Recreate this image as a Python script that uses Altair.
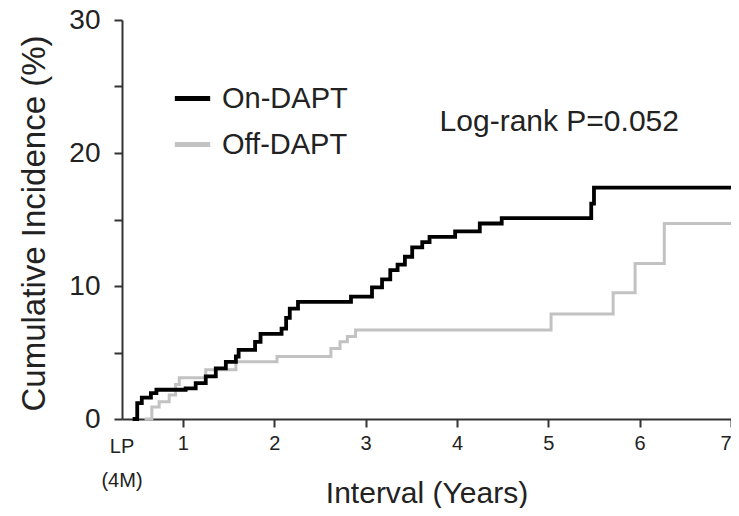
import altair as alt
import pandas as pd

# On-DAPT cumulative incidence (step function, years, %)
on_t = [0.45, 0.50, 0.55, 0.65, 0.71, 1.03, 1.14, 1.25, 1.36, 1.47, 1.58, 1.61, 1.79, 1.85,
        2.08, 2.13, 2.17, 2.26, 2.84, 3.07, 3.18, 3.27, 3.35, 3.43, 3.51, 3.62, 3.70, 3.98,
        4.25, 4.49, 5.47, 5.50, 7.00]
on_y = [0.0, 1.2, 1.6, 1.95, 2.2, 2.3, 2.7, 3.2, 3.8, 4.3, 4.7, 5.2, 5.8, 6.4,
        6.8, 7.6, 8.3, 8.8, 9.2, 9.9, 10.5, 11.2, 11.6, 12.2, 12.9, 13.3, 13.7, 14.1,
        14.7, 15.1, 16.2, 17.4, 17.4]

# Off-DAPT cumulative incidence
off_t = [0.58, 0.66, 0.74, 0.85, 0.92, 0.96, 1.25, 1.58, 2.03, 2.62, 2.72, 2.80, 2.89,
         5.03, 5.71, 5.95, 6.27, 7.00]
off_y = [0.0, 0.9, 1.3, 1.8, 2.6, 3.1, 3.7, 4.3, 4.7, 5.3, 5.8, 6.2, 6.7,
         7.9, 9.5, 11.7, 14.7, 14.7]

groups = ["On-DAPT", "Off-DAPT"]
colors = ["#000000", "#c2c2c2"]
widths = [3.8, 3.0]

x_ticks = [1, 2, 3, 4, 5, 6, 7]
y_ticks = [0, 5, 10, 15, 20, 25, 30]
lp_label = ["LP", "(4M)"]
x_start = 0.3333
annotation = "Log-rank P=0.052"

FONT = "Liberation Sans, Arial, Helvetica, sans-serif"

on_df = pd.DataFrame({"t": on_t, "y": on_y, "group": groups[0]})
off_df = pd.DataFrame({"t": off_t, "y": off_y, "group": groups[1]})

xscale = alt.Scale(domain=[x_start, 7], nice=False, zero=False)
yscale = alt.Scale(domain=[0, 30], nice=False)

x_enc = alt.X("t:Q", scale=xscale,
              axis=alt.Axis(values=x_ticks, format="d", title="Interval (Years)",
                            labelFontSize=20, labelPadding=6, titleFontSize=30,
                            titleFontWeight="normal", titleY=74, titleBaseline="middle",
                            labelColor="#222", titleColor="#222"))
y_enc = alt.Y("y:Q", scale=yscale,
              axis=alt.Axis(values=y_ticks, title="Cumulative Incidence (%)",
                            labelExpr="datum.value % 10 == 0 ? datum.label : ''",
                            labelFontSize=28, labelPadding=14, titleFontSize=33,
                            titleFontWeight="normal", titleX=-88, titleY=203,
                            titleBaseline="middle",
                            labelColor="#222", titleColor="#222"))
color_enc = alt.Color("group:N", scale=alt.Scale(domain=groups, range=colors),
                      legend=alt.Legend(orient="none", legendX=50, legendY=58, title=None,
                                        symbolType="M-1,0H1", symbolStrokeWidth=5,
                                        symbolSize=1250, labelFontSize=29, labelOffset=9,
                                        rowPadding=10, labelFont=FONT, labelColor="#222"))

off_line = alt.Chart(off_df).mark_line(interpolate="step-after", strokeWidth=widths[1]).encode(
    x=x_enc, y=y_enc, color=color_enc, order=alt.Order("t:Q"))
on_line = alt.Chart(on_df).mark_line(interpolate="step-after", strokeWidth=widths[0]).encode(
    x=x_enc, y=y_enc, color=color_enc, order=alt.Order("t:Q"))

lp_df = pd.DataFrame({"t": [x_start, x_start], "txt": lp_label, "py": [427, 461]})
lp = alt.Chart(lp_df).mark_text(fontSize=20, font=FONT, color="#222", baseline="middle").encode(
    x=alt.X("t:Q", scale=xscale),
    y=alt.Y("py:Q", scale=None),
    text="txt:N",
)

ann = alt.Chart(pd.DataFrame({"t": [5.12], "y": [22.3], "txt": [annotation]})).mark_text(
    fontSize=30, font=FONT, color="#222", baseline="middle", align="center"
).encode(
    x=alt.X("t:Q", scale=xscale),
    y=alt.Y("y:Q", scale=yscale),
    text="txt:N",
)

chart = alt.layer(off_line, on_line, lp, ann).properties(
    width=609, height=399,
    autosize=alt.AutoSizeParams(type="none"),
    padding={"left": 114, "top": 12, "right": 0, "bottom": 89},
).configure_view(stroke=None).configure_axis(
    grid=False, domainColor="#333", domainWidth=2, tickColor="#333", tickWidth=2,
    tickSize=8, labelFont=FONT, titleFont=FONT,
)

chart.save("out.html", embed_options={"renderer": "svg", "actions": False})
